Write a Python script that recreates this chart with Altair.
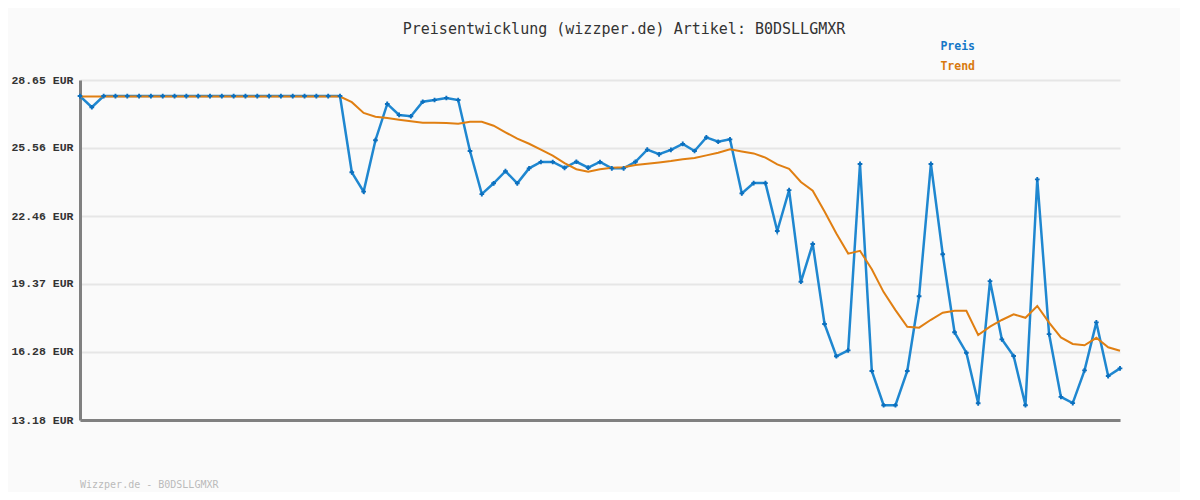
import altair as alt
import pandas as pd

# Data
preis = [27.92, 27.41] + [27.92] * 21 + [
    24.45, 23.57, 25.91, 27.56, 27.06, 27.00, 27.66, 27.74, 27.83, 27.74,
    25.42, 23.46, 23.95, 24.50, 23.95, 24.63, 24.92, 24.92, 24.65, 24.93,
    24.66, 24.92, 24.63, 24.63, 24.93, 25.48, 25.27, 25.47, 25.74, 25.42,
    26.04, 25.84, 25.95, 23.49, 23.96, 23.96, 21.78, 23.64, 19.47, 21.19,
    17.55, 16.08, 16.35, 24.83, 15.41, 13.85, 13.85, 15.41, 18.81, 24.83,
    20.72, 17.17, 16.24, 13.94, 19.50, 16.85, 16.09, 13.85, 24.13, 17.09,
    14.23, 13.95, 15.44, 17.62, 15.18, 15.53]
trend = [27.90] * 23 + [
    27.64, 27.15, 26.98, 26.92, 26.84, 26.77, 26.71, 26.71, 26.69, 26.66,
    26.75, 26.75, 26.57, 26.27, 25.98, 25.75, 25.48, 25.21, 24.87, 24.59,
    24.48, 24.59, 24.66, 24.68, 24.78, 24.84, 24.90, 24.96, 25.04, 25.10,
    25.22, 25.34, 25.50, 25.40, 25.31, 25.12, 24.81, 24.61, 24.01, 23.61,
    22.67, 21.67, 20.75, 20.88, 20.04, 19.00, 18.18, 17.42, 17.38, 17.74,
    18.06, 18.15, 18.15, 17.05, 17.43, 17.73, 17.99, 17.83, 18.37, 17.61,
    16.94, 16.64, 16.58, 16.92, 16.49, 16.33]
index = list(range(len(preis)))

y_ticks = [13.18, 16.28, 19.37, 22.46, 25.56, 28.65]
legend_labels = ["Preis", "Trend"]
title_text = "Preisentwicklung (wizzper.de) Artikel: B0DSLLGMXR"
footer_text = "Wizzper.de - B0DSLLGMXR"

BLUE_LINE = "#1f87d0"
BLUE_MARK = "#0b6fbe"
ORANGE = "#e07f12"
MONO = "DejaVu Sans Mono"

df = pd.DataFrame({"i": index, "preis": preis, "trend": trend})

x_enc = alt.X("i:Q", scale=alt.Scale(domain=[0, len(preis) - 1], nice=False, zero=False),
              axis=alt.Axis(title=None, labels=False, ticks=False, grid=False,
                            domainColor="#808080", domainWidth=3))
y_scale = alt.Scale(domain=[y_ticks[0], y_ticks[-1]], nice=False, zero=False)
y_axis = alt.Axis(title=None, values=y_ticks, ticks=False,
                  labelExpr="format(datum.value, '.2f') + ' EUR'",
                  labelFont="Liberation Mono", labelFontWeight="bold", labelFontSize=11.5,
                  labelColor="#333333", labelPadding=7,
                  domainColor="#808080", domainWidth=3,
                  grid=True, gridColor="#e6e6e6", gridWidth=2)

base = alt.Chart(df)
preis_line = base.mark_line(color=BLUE_LINE, strokeWidth=2.5).encode(
    x=x_enc, y=alt.Y("preis:Q", scale=y_scale, axis=y_axis))
trend_line = base.mark_line(color=ORANGE, strokeWidth=2).encode(
    x="i:Q", y="trend:Q")
preis_pts = base.mark_point(shape="cross", filled=True, size=22, color=BLUE_MARK,
                            opacity=1).encode(x="i:Q", y="preis:Q")

leg_df = pd.DataFrame({"label": legend_labels})
leg_preis = alt.Chart(leg_df).transform_filter(alt.datum.label == "Preis").mark_text(
    font=MONO, fontWeight="bold", fontSize=11.5, color="#1577c7",
    align="right", baseline="middle").encode(
    text="label:N", x=alt.value(895), y=alt.value(-33))
leg_trend = alt.Chart(leg_df).transform_filter(alt.datum.label == "Trend").mark_text(
    font=MONO, fontWeight="bold", fontSize=11.5, color="#d8790f",
    align="right", baseline="middle").encode(
    text="label:N", x=alt.value(895), y=alt.value(-13))

title_mark = alt.Chart(pd.DataFrame({"t": [title_text]})).mark_text(
    font=MONO, fontSize=15, color="#333333", align="center", baseline="middle").encode(
    text="t:N", x=alt.value(544), y=alt.value(-51))

foot = alt.Chart(pd.DataFrame({"t": [footer_text]})).mark_text(
    font=MONO, fontSize=10, color="#bbbbbb", align="left", baseline="middle").encode(
    text="t:N", x=alt.value(0), y=alt.value(405))

chart = alt.layer(preis_line, trend_line, preis_pts, leg_preis, leg_trend,
                  title_mark, foot).properties(
    width=1040, height=340,
    autosize=alt.AutoSizeParams(type="none"),
    padding={"left": 72, "top": 72, "right": 60, "bottom": 72},
    background="#fafafa",
).configure_view(stroke=None)

chart.save("out.html", embed_options={"renderer": "svg", "actions": False})
